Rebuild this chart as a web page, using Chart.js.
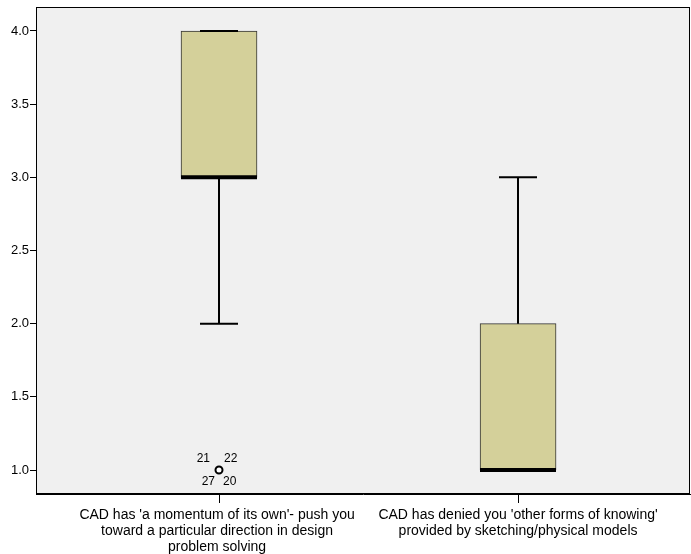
<!DOCTYPE html>
<html><head><meta charset="utf-8">
<script src="https://cdn.jsdelivr.net/npm/chart.js@4/dist/chart.umd.min.js"></script>
<style>html,body{margin:0;padding:0;background:#fff}#wrap{width:691px;height:554px}</style>
</head><body><div id="wrap"><canvas id="c" width="691" height="554"></canvas></div>
<script>
const categories = [
  ["CAD has 'a momentum of its own'- push you ","toward a particular direction in design ","problem solving "],
  ["CAD has denied you 'other forms of knowing'","provided by sketching/physical models"]
];
const positions = [1, 2];
const whiskerLow = [2, 1];
const q1 = [3, 1];
const median = [3, 1];
const q3 = [4, 2];
const whiskerHigh = [4, 3];
const outlierValues = [[1], []];
const outlierLabels = [[["21","22","27","20"]], []];
const yTicks = [1.0, 1.5, 2.0, 2.5, 3.0, 3.5, 4.0];

const BOX_W = 76;
const FONT = "'Liberation Sans', Arial, sans-serif";

const boxPlugin = {
  id: 'boxPlugin',
  beforeDraw(chart) {
    const {ctx, chartArea: a} = chart;
    ctx.save();
    ctx.fillStyle = '#f0f0f0';
    ctx.fillRect(a.left, a.top, a.right - a.left, a.bottom - a.top);
    ctx.restore();
  },
  afterDatasetsDraw(chart) {
    const {ctx, scales: {x, y}, chartArea: a} = chart;
    ctx.save();
    positions.forEach((p, i) => {
      const cx = Math.round(x.getPixelForValue(p));
      const half = BOX_W / 4;
      ctx.strokeStyle = '#000';
      ctx.lineWidth = 2;
      const yq3 = y.getPixelForValue(q3[i]), yhi = y.getPixelForValue(whiskerHigh[i]);
      const yq1 = y.getPixelForValue(q1[i]), ylo = y.getPixelForValue(whiskerLow[i]);
      ctx.beginPath();
      ctx.moveTo(cx, yq3); ctx.lineTo(cx, yhi);
      ctx.moveTo(cx - half, yhi); ctx.lineTo(cx + half, yhi);
      ctx.moveTo(cx, yq1); ctx.lineTo(cx, ylo);
      ctx.moveTo(cx - half, ylo); ctx.lineTo(cx + half, ylo);
      ctx.stroke();
      ctx.lineWidth = 4;
      const ym = y.getPixelForValue(median[i]);
      ctx.beginPath();
      ctx.moveTo(cx - BOX_W / 2, ym); ctx.lineTo(cx + BOX_W / 2, ym);
      ctx.stroke();
      outlierValues[i].forEach((v, k) => {
        const oy = y.getPixelForValue(v);
        ctx.lineWidth = 2;
        ctx.fillStyle = '#fff';
        ctx.beginPath();
        ctx.arc(cx, oy, 3.5, 0, Math.PI * 2);
        ctx.fill(); ctx.stroke();
        const labs = outlierLabels[i][k];
        ctx.fillStyle = '#000';
        ctx.font = '12px ' + FONT;
        ctx.textBaseline = 'middle';
        ctx.textAlign = 'right';
        ctx.fillText(labs[0], cx - 9, oy - 11);
        ctx.fillText(labs[2], cx - 4, oy + 12);
        ctx.textAlign = 'left';
        ctx.fillText(labs[1], cx + 5, oy - 11);
        ctx.fillText(labs[3], cx + 4, oy + 12);
      });
    });
    ctx.strokeStyle = '#000';
    ctx.lineWidth = 1;
    ctx.strokeRect(a.left + 0.5, a.top + 0.5, a.right - a.left - 1, a.bottom - a.top - 1);
    ctx.restore();
  }
};

new Chart(document.getElementById('c'), {
  type: 'bar',
  data: {
    datasets: [{
      data: positions.map((p, i) => ({x: p, y: [q1[i], q3[i]]})),
      backgroundColor: '#d4d09a',
      borderColor: '#333',
      borderWidth: 1,
      borderSkipped: false,
      barThickness: BOX_W
    }]
  },
  options: {
    responsive: false,
    animation: false,
    events: [],
    layout: {padding: {top: 7, right: 1, left: 0, bottom: 0}},
    plugins: {legend: {display: false}, tooltip: {enabled: false}},
    scales: {
      x: {
        type: 'linear',
        offset: false,
        min: 0.388, max: 2.575,
        afterBuildTicks(s) { s.ticks = positions.map(v => ({value: v})); },
        afterFit(s) { s.height = 60; s.paddingLeft = 0; s.paddingRight = 0; },
        ticks: {
          callback: (v) => categories[positions.indexOf(v)] || '',
          color: '#000',
          font: {family: FONT, size: 14, lineHeight: 1.15},
          maxRotation: 0, autoSkip: false, padding: 4
        },
        grid: {drawOnChartArea: false, offset: false, tickLength: 9, color: '#000', lineWidth: 1},
        border: {color: '#000', width: 1}
      },
      y: {
        min: 0.836, max: 4.164,
        afterBuildTicks(s) { s.ticks = yTicks.map(v => ({value: v})); },
        afterFit(s) { s.width = 36; s.paddingTop = 0; s.paddingBottom = 0; },
        ticks: {
          callback: (v) => Number(v).toFixed(1),
          color: '#000',
          font: {family: FONT, size: 13},
          padding: 1
        },
        grid: {drawOnChartArea: false, tickLength: 6, color: '#000', lineWidth: 1},
        border: {color: '#000', width: 1}
      }
    }
  },
  plugins: [boxPlugin]
});
</script></body></html>
